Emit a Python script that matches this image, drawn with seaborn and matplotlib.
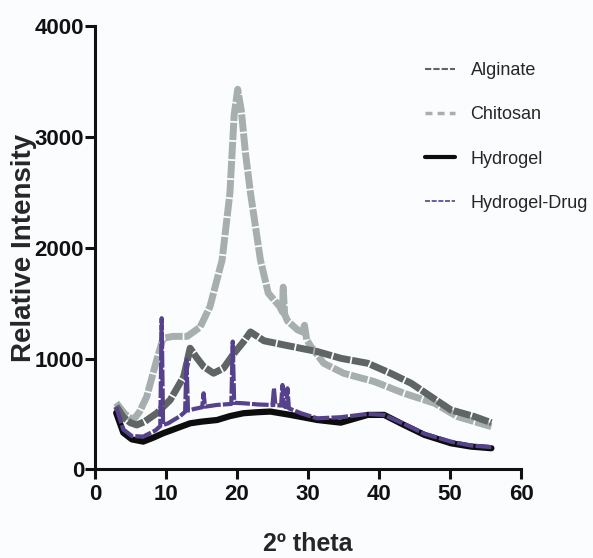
import pandas as pd
import matplotlib.pyplot as plt
import seaborn as sns

# values (2-theta in degrees, intensity)
alginate_x = [3.0, 4.0, 5.0, 5.9, 7.0, 8.7, 10.6, 12.5, 13.4, 14.3, 15.3, 16.7, 18.1, 19.5, 20.9,
              21.9, 23.8, 26.6, 28.9, 31.3, 34.6, 38.4, 41.6, 44.5, 47.3, 50.1, 53.4, 55.8]
alginate_y = [570, 470, 420, 400, 430, 506, 626, 837, 1093, 1010, 927, 867, 912, 1040, 1150,
              1240, 1160, 1123, 1093, 1063, 1002, 957, 867, 777, 656, 536, 476, 420]

chitosan_x = [3.0, 4.2, 5.4, 6.3, 7.3, 8.7, 9.6, 11.0, 13.0, 14.8, 16.2, 17.9, 19.0, 19.6, 20.1,
              20.6, 21.2, 21.9, 23.3, 24.4, 26.0, 26.4, 26.5, 26.7, 27.1, 28.5, 29.2, 29.5, 29.8,
              30.4, 32.2, 35.0, 39.3, 43.5, 47.8, 51.0, 55.8]
chitosan_y = [600, 500, 445, 520, 656, 987, 1183, 1200, 1200, 1283, 1469, 1888, 2493, 3200, 3430,
              3240, 2850, 2493, 1888, 1590, 1470, 1420, 1644, 1400, 1340, 1260, 1240, 1300, 1170,
              1108, 957, 867, 792, 686, 596, 476, 385]

hydrogel_x = [3.0, 4.0, 5.2, 6.8, 8.2, 9.6, 11.5, 13.4, 15.0, 17.2, 19.0, 20.9, 22.8, 24.7, 27.5,
              31.3, 34.6, 38.4, 40.7, 43.5, 46.4, 50.1, 52.9, 55.8]
hydrogel_y = [510, 330, 270, 250, 285, 325, 370, 415, 430, 445, 480, 506, 515, 521, 491,
              445, 421, 491, 491, 400, 310, 235, 205, 190]

drug_x = [3.0, 4.0, 5.2, 6.8, 8.5, 9.2, 9.4, 9.6, 10.3, 12.0, 12.7, 12.9, 13.1, 14.0, 15.1, 15.3,
          15.5, 17.2, 19.2, 19.4, 19.6, 20.9, 23.0, 25.0, 25.2, 25.4, 26.2, 26.4, 26.6, 26.9,
          27.1, 27.3, 29.0, 31.3, 34.6, 38.4, 40.7, 43.5, 46.4, 50.1, 52.9, 55.8]
drug_y = [560, 360, 300, 295, 350, 390, 1364, 400, 415, 480, 520, 987, 530, 545, 560, 686,
          565, 581, 590, 1153, 600, 596, 585, 580, 731, 580, 575, 761, 570, 560,
          731, 550, 506, 460, 470, 500, 490, 410, 320, 250, 215, 200]

series = [
    ("Chitosan", chitosan_x, chitosan_y, "#a6aeae", (0, (2.5, 0.25)), 5.0),
    ("Alginate", alginate_x, alginate_y, "#5f6464", (0, (2.5, 0.25)), 5.0),
    ("Hydrogel", hydrogel_x, hydrogel_y, "#0d0d0d", "-", 4.5),
    ("Hydrogel-Drug", drug_x, drug_y, "#55418c", (0, (4, 0.5)), 3.0),
]

sns.set_style("ticks")
plt.rcParams['font.family'] = ['Liberation Sans Narrow', 'Liberation Sans', 'DejaVu Sans']

fig = plt.figure(figsize=(5.93, 5.58), dpi=100, facecolor="#fbfcfe")
ax = fig.add_axes([0.160, 0.159, 0.719, 0.794])
ax.set_facecolor("#fbfcfe")

for name, xs, ys, col, ls, lw in series:
    df = pd.DataFrame({"theta": xs, "intensity": ys})
    sns.lineplot(data=df, x="theta", y="intensity", ax=ax, color=col,
                 linestyle=ls, linewidth=lw, sort=False)

ax.set_xlim(0, 60)
ax.set_ylim(0, 4000)
ax.set_xticks(range(0, 61, 10))
ax.set_yticks(range(0, 4001, 1000))
sns.despine(ax=ax)
for s in ["left", "bottom"]:
    ax.spines[s].set_linewidth(2.2)
    ax.spines[s].set_color("#111111")
ax.tick_params(width=2.2, length=7, labelsize=16, colors="#111111")
ax.tick_params(axis="y", pad=0.8)
for lab in ax.get_xticklabels() + ax.get_yticklabels():
    lab.set_fontweight("bold")

ax.set_xlabel("2º theta", fontsize=18, fontweight="bold")
ax.set_ylabel("Relative Intensity", fontsize=20, fontweight="bold")
ax.xaxis.set_label_coords(0.5, -0.142)
ax.yaxis.set_label_coords(-0.135, 0.5)

leg_lines = [
    plt.Line2D([], [], color="#5f6464", linestyle=(0, (3, 1)), linewidth=1.5),
    plt.Line2D([], [], color="#a6aeae", linestyle=(0, (2, 1.5)), linewidth=2.5),
    plt.Line2D([], [], color="#0d0d0d", linestyle="-", linewidth=3),
    plt.Line2D([], [], color="#55418c", linestyle=(0, (3, 1)), linewidth=1.2),
]
ax.legend(leg_lines, ["Alginate", "Chitosan", "Hydrogel", "Hydrogel-Drug"],
          loc="upper left", bbox_to_anchor=(0.735, 0.955), frameon=False,
          fontsize=13, handlelength=1.7, labelspacing=1.5, handletextpad=0.85)

fig.savefig("out.png", dpi=100, facecolor=fig.get_facecolor())
